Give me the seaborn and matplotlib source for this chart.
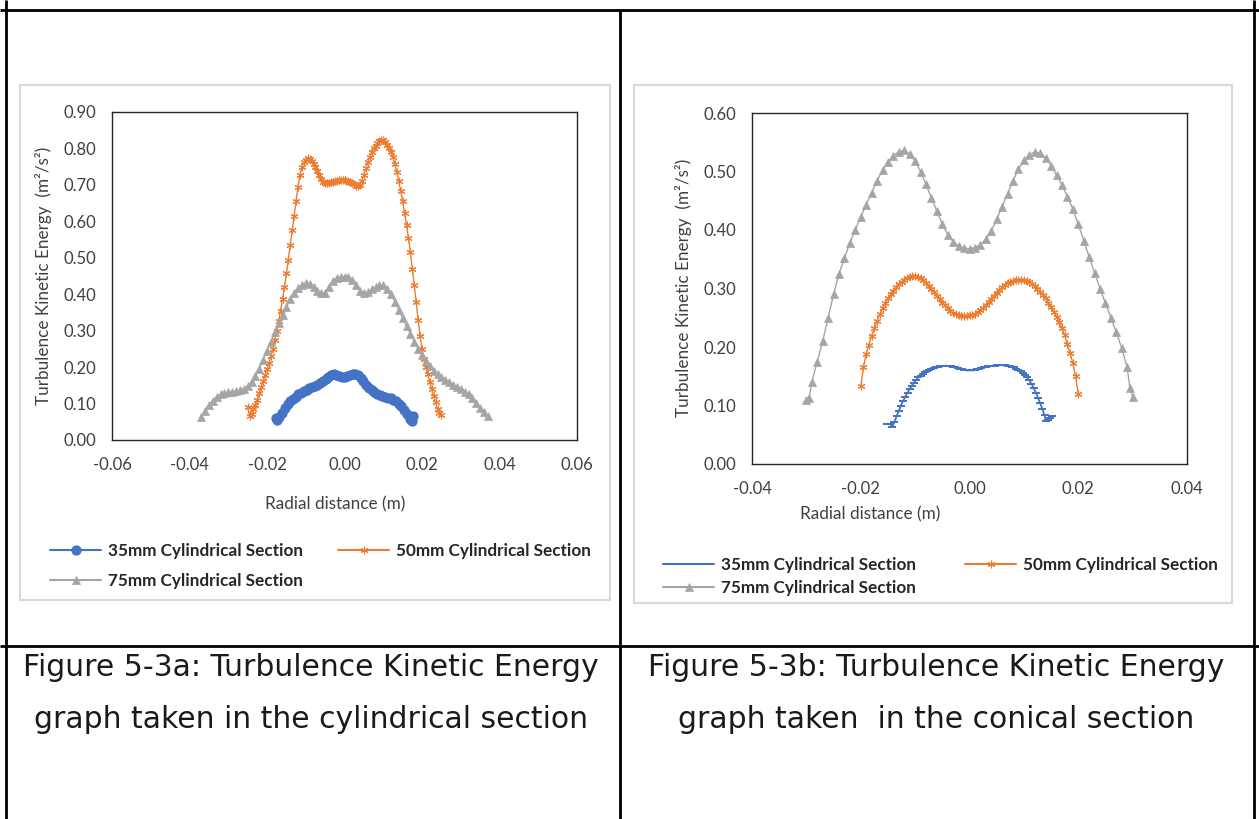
import numpy as np
import pandas as pd
import matplotlib
matplotlib.use("Agg")
import matplotlib.pyplot as plt
import seaborn as sns
from matplotlib.lines import Line2D
from matplotlib.patches import Rectangle

# ---------------- data : Figure 5-3a (cylindrical section) ----------------
cyl_35_x = [-0.0178, -0.0175, -0.0168, -0.0161, -0.0154, -0.0147, -0.0140, -0.0133, -0.0126, -0.0119,
            -0.0112, -0.0105, -0.0098, -0.0091, -0.0084, -0.0077, -0.0070, -0.0063, -0.0056, -0.0049,
            -0.0042, -0.0035, -0.0028, -0.0021, -0.0014, -0.0007, 0.0000, 0.0007, 0.0014, 0.0021,
            0.0028, 0.0035, 0.0042, 0.0049, 0.0056, 0.0063, 0.0070, 0.0077, 0.0084, 0.0091,
            0.0098, 0.0105, 0.0112, 0.0119, 0.0126, 0.0133, 0.0140, 0.0147, 0.0154, 0.0161,
            0.0168, 0.0175, 0.0178]
cyl_35_y = [0.060, 0.055, 0.062, 0.075, 0.088, 0.098, 0.106, 0.113, 0.119, 0.125,
            0.130, 0.134, 0.138, 0.142, 0.145, 0.149, 0.152, 0.156, 0.161, 0.167,
            0.174, 0.179, 0.180, 0.177, 0.175, 0.174, 0.174, 0.175, 0.177, 0.180,
            0.182, 0.178, 0.170, 0.161, 0.152, 0.144, 0.137, 0.131, 0.126, 0.123,
            0.120, 0.118, 0.116, 0.114, 0.111, 0.106, 0.100, 0.093, 0.083, 0.070,
            0.058, 0.052, 0.066]

cyl_50_x = [-0.0250, -0.0245, -0.0240, -0.0235, -0.0230, -0.0225, -0.0220, -0.0215, -0.0210, -0.0205,
            -0.0200, -0.0195, -0.0190, -0.0185, -0.0180, -0.0175, -0.0170, -0.0165, -0.0160, -0.0155,
            -0.0150, -0.0145, -0.0140, -0.0135, -0.0130, -0.0125, -0.0120, -0.0115, -0.0110, -0.0105,
            -0.0100, -0.0095, -0.0090, -0.0085, -0.0080, -0.0075, -0.0070, -0.0065, -0.0060, -0.0055,
            -0.0050, -0.0045, -0.0040, -0.0035, -0.0030, -0.0025, -0.0020, -0.0015, -0.0010, -0.0005,
            0.0000, 0.0005, 0.0010, 0.0015, 0.0020, 0.0025, 0.0030, 0.0035, 0.0040, 0.0045,
            0.0050, 0.0055, 0.0060, 0.0065, 0.0070, 0.0075, 0.0080, 0.0085, 0.0090, 0.0095,
            0.0100, 0.0105, 0.0110, 0.0115, 0.0120, 0.0125, 0.0130, 0.0135, 0.0140, 0.0145,
            0.0150, 0.0155, 0.0160, 0.0165, 0.0170, 0.0175, 0.0180, 0.0185, 0.0190, 0.0195,
            0.0200, 0.0205, 0.0210, 0.0215, 0.0220, 0.0225, 0.0230, 0.0235, 0.0240, 0.0245,
            0.0250]
cyl_50_y = [0.090, 0.066, 0.072, 0.085, 0.097, 0.110, 0.128, 0.145, 0.161, 0.178,
            0.194, 0.210, 0.230, 0.250, 0.275, 0.300, 0.327, 0.355, 0.387, 0.420,
            0.457, 0.495, 0.535, 0.575, 0.615, 0.655, 0.695, 0.728, 0.750, 0.762,
            0.769, 0.773, 0.771, 0.766, 0.758, 0.748, 0.737, 0.726, 0.716, 0.709,
            0.705, 0.704, 0.705, 0.707, 0.709, 0.711, 0.712, 0.713, 0.713, 0.713,
            0.713, 0.712, 0.710, 0.708, 0.705, 0.702, 0.698, 0.696, 0.700, 0.712,
            0.728, 0.745, 0.762, 0.776, 0.789, 0.800, 0.808, 0.815, 0.821, 0.824,
            0.824, 0.819, 0.810, 0.800, 0.789, 0.776, 0.757, 0.735, 0.710, 0.684,
            0.655, 0.622, 0.590, 0.555, 0.515, 0.470, 0.425, 0.378, 0.330, 0.285,
            0.250, 0.222, 0.200, 0.180, 0.160, 0.140, 0.120, 0.103, 0.085, 0.073,
            0.068]

cyl_75_x = [-0.037, -0.036, -0.035, -0.034, -0.033, -0.032, -0.031, -0.030, -0.029, -0.028,
            -0.027, -0.026, -0.025, -0.024, -0.023, -0.022, -0.021, -0.020, -0.019, -0.018,
            -0.017, -0.016, -0.015, -0.014, -0.013, -0.012, -0.011, -0.010, -0.009, -0.008,
            -0.007, -0.006, -0.005, -0.004, -0.003, -0.002, -0.001, 0.000, 0.001, 0.002,
            0.003, 0.004, 0.005, 0.006, 0.007, 0.008, 0.009, 0.010, 0.011, 0.012,
            0.013, 0.014, 0.015, 0.016, 0.017, 0.018, 0.019, 0.020, 0.021, 0.022,
            0.023, 0.024, 0.025, 0.026, 0.027, 0.028, 0.029, 0.030, 0.031, 0.032,
            0.033, 0.034, 0.035, 0.036, 0.037]
cyl_75_y = [0.062, 0.080, 0.096, 0.108, 0.119, 0.125, 0.129, 0.131, 0.132, 0.134,
            0.136, 0.140, 0.148, 0.160, 0.176, 0.196, 0.220, 0.245, 0.270, 0.295,
            0.320, 0.343, 0.365, 0.386, 0.403, 0.417, 0.426, 0.430, 0.428, 0.420,
            0.410, 0.402, 0.402, 0.420, 0.437, 0.444, 0.447, 0.448, 0.447, 0.440,
            0.425, 0.410, 0.402, 0.405, 0.413, 0.420, 0.424, 0.424, 0.414, 0.400,
            0.380, 0.357, 0.334, 0.312, 0.292, 0.270, 0.250, 0.232, 0.216, 0.202,
            0.190, 0.180, 0.172, 0.165, 0.158, 0.151, 0.145, 0.139, 0.133, 0.126,
            0.116, 0.102, 0.088, 0.076, 0.065]

# ---------------- data : Figure 5-3b (conical section) ----------------
con_35_x = [-0.0152, -0.0146, -0.0142, -0.0138, -0.0134, -0.0130, -0.0126, -0.0122, -0.0118, -0.0114,
            -0.0110, -0.0106, -0.0102, -0.0098, -0.0094, -0.0090, -0.0086, -0.0082, -0.0078, -0.0074,
            -0.0070, -0.0066, -0.0062, -0.0058, -0.0054, -0.0050, -0.0046, -0.0042, -0.0038, -0.0034,
            -0.0030, -0.0026, -0.0022, -0.0018, -0.0014, -0.0010, -0.0006, -0.0002, 0.0002, 0.0006,
            0.0010, 0.0014, 0.0018, 0.0022, 0.0026, 0.0030, 0.0034, 0.0038, 0.0042, 0.0046,
            0.0050, 0.0054, 0.0058, 0.0062, 0.0066, 0.0070, 0.0074, 0.0078, 0.0082, 0.0086,
            0.0090, 0.0094, 0.0098, 0.0102, 0.0106, 0.0110, 0.0114, 0.0118, 0.0122, 0.0126,
            0.0130, 0.0134, 0.0138, 0.0141, 0.0144, 0.0148, 0.0152]
con_35_y = [0.069, 0.068, 0.063, 0.072, 0.082, 0.091, 0.100, 0.108, 0.115, 0.122,
            0.128, 0.134, 0.139, 0.144, 0.148, 0.151, 0.154, 0.157, 0.159, 0.161,
            0.163, 0.164, 0.165, 0.166, 0.167, 0.167, 0.168, 0.168, 0.167, 0.167,
            0.166, 0.165, 0.164, 0.163, 0.162, 0.161, 0.160, 0.160, 0.160, 0.160,
            0.161, 0.162, 0.163, 0.164, 0.165, 0.166, 0.167, 0.167, 0.168, 0.168,
            0.169, 0.169, 0.169, 0.169, 0.169, 0.168, 0.167, 0.166, 0.165, 0.163,
            0.161, 0.159, 0.156, 0.152, 0.148, 0.143, 0.137, 0.130, 0.122, 0.113,
            0.104, 0.094, 0.083, 0.074, 0.075, 0.078, 0.082]

con_50_x = [-0.0200, -0.0195, -0.0190, -0.0185, -0.0180, -0.0175, -0.0170, -0.0165, -0.0160, -0.0155,
            -0.0150, -0.0145, -0.0140, -0.0135, -0.0130, -0.0125, -0.0120, -0.0115, -0.0110, -0.0105,
            -0.0100, -0.0095, -0.0090, -0.0085, -0.0080, -0.0075, -0.0070, -0.0065, -0.0060, -0.0055,
            -0.0050, -0.0045, -0.0040, -0.0035, -0.0030, -0.0025, -0.0020, -0.0015, -0.0010, -0.0005,
            0.0000, 0.0005, 0.0010, 0.0015, 0.0020, 0.0025, 0.0030, 0.0035, 0.0040, 0.0045,
            0.0050, 0.0055, 0.0060, 0.0065, 0.0070, 0.0075, 0.0080, 0.0085, 0.0090, 0.0095,
            0.0100, 0.0105, 0.0110, 0.0115, 0.0120, 0.0125, 0.0130, 0.0135, 0.0140, 0.0145,
            0.0150, 0.0155, 0.0160, 0.0165, 0.0170, 0.0175, 0.0180, 0.0185, 0.0190, 0.0195,
            0.0200]
con_50_y = [0.133, 0.165, 0.188, 0.204, 0.219, 0.232, 0.244, 0.256, 0.266, 0.275,
            0.283, 0.290, 0.296, 0.302, 0.307, 0.311, 0.315, 0.318, 0.320, 0.321,
            0.321, 0.320, 0.318, 0.314, 0.310, 0.305, 0.300, 0.294, 0.288, 0.282,
            0.276, 0.271, 0.266, 0.262, 0.258, 0.256, 0.254, 0.253, 0.253, 0.253,
            0.254, 0.255, 0.257, 0.260, 0.263, 0.267, 0.272, 0.277, 0.282, 0.288,
            0.293, 0.298, 0.302, 0.306, 0.309, 0.311, 0.313, 0.314, 0.315, 0.315,
            0.314, 0.313, 0.311, 0.308, 0.304, 0.299, 0.294, 0.289, 0.283, 0.276,
            0.268, 0.260, 0.252, 0.243, 0.232, 0.220, 0.205, 0.190, 0.172, 0.150,
            0.120]

con_75_x = [-0.0300, -0.0295, -0.029, -0.028, -0.027, -0.026, -0.025, -0.024, -0.023, -0.022,
            -0.021, -0.020, -0.019, -0.018, -0.017, -0.016, -0.015, -0.014, -0.013, -0.012,
            -0.011, -0.010, -0.009, -0.008, -0.007, -0.006, -0.005, -0.004, -0.003, -0.002,
            -0.001, 0.000, 0.001, 0.002, 0.003, 0.004, 0.005, 0.006, 0.007, 0.008,
            0.009, 0.010, 0.011, 0.012, 0.013, 0.014, 0.015, 0.016, 0.017, 0.018,
            0.019, 0.020, 0.021, 0.022, 0.023, 0.024, 0.025, 0.026, 0.027, 0.028,
            0.029, 0.0295, 0.0300]
con_75_y = [0.110, 0.113, 0.140, 0.175, 0.210, 0.250, 0.290, 0.325, 0.352, 0.378,
            0.400, 0.423, 0.443, 0.464, 0.484, 0.502, 0.516, 0.527, 0.534, 0.536,
            0.530, 0.518, 0.500, 0.478, 0.455, 0.432, 0.410, 0.392, 0.380, 0.373,
            0.369, 0.368, 0.370, 0.375, 0.384, 0.398, 0.418, 0.440, 0.462, 0.484,
            0.504, 0.519, 0.529, 0.533, 0.531, 0.523, 0.510, 0.494, 0.477, 0.457,
            0.436, 0.410, 0.382, 0.354, 0.327, 0.300, 0.275, 0.250, 0.225, 0.198,
            0.165, 0.130, 0.115]

series_names = ["35mm Cylindrical Section", "50mm Cylindrical Section", "75mm Cylindrical Section"]
colors = ["#4472C4", "#ED7D31", "#A5A5A5"]

cyl_xticks = [-0.06, -0.04, -0.02, 0.00, 0.02, 0.04, 0.06]
cyl_yticks = [0.0, 0.1, 0.2, 0.3, 0.4, 0.5, 0.6, 0.7, 0.8, 0.9]
con_xticks = [-0.04, -0.02, 0.00, 0.02, 0.04]
con_yticks = [0.0, 0.1, 0.2, 0.3, 0.4, 0.5, 0.6]

caption_a = ["Figure 5-3a: Turbulence Kinetic Energy", "graph taken in the cylindrical section"]
caption_b = ["Figure 5-3b: Turbulence Kinetic Energy", "graph taken  in the conical section"]
ylabel = "Turbulence Kinetic Energy  (m\u00b2/s\u00b2)"
xlabel = "Radial distance (m)"

# ---------------- figure ----------------
sns.set_style("white")
plt.rcParams["font.family"] = ["Lato", "DejaVu Sans"]

W, H = 1259, 819
fig = plt.figure(figsize=(W / 100, H / 100), dpi=100)
fig.patch.set_facecolor("white")


def fx(px):
    return px / W


def fy(py):
    return 1 - py / H


TXT = "#404040"

# chart frames (light grey)
for (x0, y0, x1, y1) in [(20, 85, 610, 600), (634, 85, 1232, 603)]:
    fig.add_artist(Rectangle((fx(x0), fy(y1)), fx(x1 - x0), (y1 - y0) / H,
                             transform=fig.transFigure, facecolor="white",
                             edgecolor="#D9D9D9", linewidth=1.5, zorder=0))

# table lines
LW = 2.0
for (x0, y0, x1, y1) in [(0, 10, W, 10), (0, 646, W, 646),
                         (6, 0, 6, H), (620, 10, 620, H), (1254, 0, 1254, H)]:
    fig.add_artist(Line2D([fx(x0), fx(x1)], [fy(y0), fy(y1)], transform=fig.transFigure,
                          color="black", linewidth=LW, solid_capstyle="butt"))

ax1 = fig.add_axes([fx(112), fy(440), fx(577 - 112), (440 - 112) / H])
ax2 = fig.add_axes([fx(752), fy(464), fx(1187 - 752), (464 - 113) / H])


def draw(ax, x, y, color, marker, ms, lw, label, mew=0.9, filled=True):
    kw = dict(marker=marker, markersize=ms, markeredgecolor=color,
              markeredgewidth=mew, markerfacecolor=color if filled else "none")
    sns.lineplot(x=x, y=y, ax=ax, color=color, linewidth=lw, sort=False,
                 estimator=None, label=label, **kw)


STAR = (6, 2, 0)
draw(ax1, cyl_35_x, cyl_35_y, colors[0], "o", 6.5, 3.0, series_names[0])
draw(ax1, cyl_50_x, cyl_50_y, colors[1], STAR, 5.5, 1.0, series_names[1], mew=0.8)
draw(ax1, cyl_75_x, cyl_75_y, colors[2], "^", 5.5, 1.0, series_names[2], mew=0.5)

draw(ax2, con_35_x, con_35_y, colors[0], "_", 6, 1.3, series_names[0], mew=1.4)
draw(ax2, con_50_x, con_50_y, colors[1], STAR, 5.5, 1.0, series_names[1], mew=0.8)
draw(ax2, con_75_x, con_75_y, colors[2], "^", 5.5, 1.0, series_names[2], mew=0.5)

TICK_FS = 12
for ax, xt, yt, xlim, ylim in [(ax1, cyl_xticks, cyl_yticks, (-0.06, 0.06), (0, 0.9)),
                               (ax2, con_xticks, con_yticks, (-0.04, 0.04), (0, 0.6))]:
    ax.set_xlim(*xlim)
    ax.set_ylim(*ylim)
    ax.set_xticks(xt)
    ax.set_yticks(yt)
    ax.set_xticklabels([f"{v:.2f}" for v in xt])
    ax.set_yticklabels([f"{v:.2f}" for v in yt])
    ax.tick_params(axis="both", length=0, labelsize=TICK_FS, colors=TXT)
    ax.tick_params(axis="y", pad=11)
    ax.tick_params(axis="x", pad=12)
    for s in ax.spines.values():
        s.set_color("#262626")
        s.set_linewidth(1.0)
        s.set_visible(True)
    ax.set_facecolor("white")
    ax.grid(False)
    ax.set_xlabel("")
    ax.set_ylabel("")
    leg = ax.get_legend()
    if leg is not None:
        leg.remove()

# axis titles
AX_FS = 12.3
fig.text(fx(44), fy(276), ylabel, rotation=90, ha="center", va="center", fontsize=AX_FS, color=TXT)
fig.text(fx(683), fy(288), ylabel, rotation=90, ha="center", va="center", fontsize=AX_FS, color=TXT)
fig.text(fx(335), fy(504), xlabel, ha="center", va="center", fontsize=AX_FS, color=TXT)
fig.text(fx(870), fy(514), xlabel, ha="center", va="center", fontsize=AX_FS, color=TXT)

# legends (one entry each, placed like the original)
LEG_FS = 12.3
leg_prop = dict(size=LEG_FS, weight="bold")


def put_legend(ax, idx, x, y):
    handles, labels = ax.get_legend_handles_labels()
    lg = fig.legend(handles=[handles[idx]], labels=[labels[idx]], loc="center left",
                    bbox_to_anchor=(fx(x), fy(y)), frameon=False, borderpad=0,
                    borderaxespad=0, handlelength=3.0, handletextpad=0.4,
                    prop=leg_prop)
    for t in lg.get_texts():
        t.set_color("#262626")
    for h in lg.legend_handles:
        h.set_linewidth(1.5)
    return lg


put_legend(ax1, 0, 50, 551)
put_legend(ax1, 1, 338, 551)
put_legend(ax1, 2, 50, 581)
put_legend(ax2, 0, 663, 565)
put_legend(ax2, 1, 965, 565)
put_legend(ax2, 2, 663, 588)

# captions
CAP_FS = 21.5
cap_font = ["DejaVu Sans"]
fig.text(fx(311), fy(667), caption_a[0], ha="center", va="center", fontsize=CAP_FS, family=cap_font, color="#1a1a1a")
fig.text(fx(311), fy(720), caption_a[1], ha="center", va="center", fontsize=CAP_FS, family=cap_font, color="#1a1a1a")
fig.text(fx(936), fy(667), caption_b[0], ha="center", va="center", fontsize=CAP_FS, family=cap_font, color="#1a1a1a")
fig.text(fx(936), fy(720), caption_b[1], ha="center", va="center", fontsize=CAP_FS, family=cap_font, color="#1a1a1a")

fig.savefig("out.png", dpi=100, facecolor="white")
